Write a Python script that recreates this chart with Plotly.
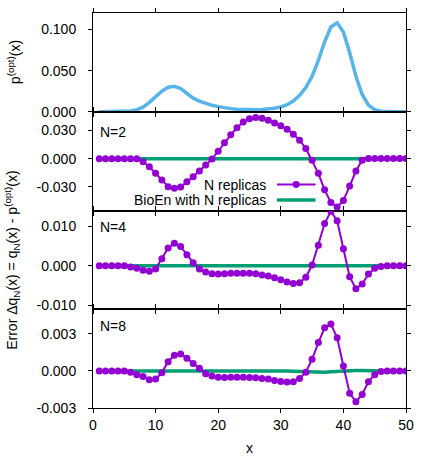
import plotly.graph_objects as go
from plotly.subplots import make_subplots

# x grid
x = list(range(1, 51))

# optimal distribution p_opt(x)
p_opt = [0.0000, 0.0000, 0.0001, 0.0002, 0.0004, 0.0010, 0.0025, 0.0056, 0.0115, 0.0178,
         0.0250, 0.0298, 0.0310, 0.0282, 0.0225, 0.0165, 0.0128, 0.0100, 0.0078, 0.0062,
         0.0048, 0.0038, 0.0031, 0.0027, 0.0025, 0.0025, 0.0027, 0.0032, 0.0042, 0.0058,
         0.0085, 0.0130, 0.0200, 0.0295, 0.0430, 0.0625, 0.0850, 0.1030, 0.1080, 0.0970,
         0.0720, 0.0430, 0.0210, 0.0080, 0.0025, 0.0006, 0.0001, 0.0000, 0.0000, 0.0000]

# error of plain N replicas
err_n2 = [0.0, 0.0, 0.0, 0.0, 0.0, 0.0, 0.0, -0.0032, -0.0085, -0.0155,
          -0.0226, -0.0297, -0.0314, -0.0300, -0.0244, -0.0190, -0.0130, -0.0067, -0.0003, 0.0080,
          0.0170, 0.0255, 0.0330, 0.0390, 0.0425, 0.0440, 0.0432, 0.0410, 0.0380, 0.0350,
          0.0315, 0.0262, 0.0198, 0.0110, -0.0015, -0.0155, -0.0330, -0.0466, -0.0512, -0.0445,
          -0.0290, -0.0130, -0.0015, 0.0004, 0.0003, 0.0003, 0.0003, 0.0003, 0.0003, 0.0003]

err_n4 = [0.0, 0.0, 0.0, 0.0, 0.0, -0.0003, -0.0006, -0.0011, -0.0014, -0.0008,
          0.0018, 0.0045, 0.0057, 0.0049, 0.0028, 0.0008, -0.0008, -0.0016, -0.0020, -0.0021,
          -0.0020, -0.0019, -0.0019, -0.0019, -0.0019, -0.0020, -0.0023, -0.0026, -0.0030, -0.0035,
          -0.0041, -0.0045, -0.0043, -0.0029, 0.0002, 0.0052, 0.0107, 0.0138, 0.0114, 0.0043,
          -0.0028, -0.0058, -0.0046, -0.0021, -0.0006, -0.0002, 0.0, 0.0, 0.0, 0.0]

err_n8 = [0.0, 0.0, 0.0, 0.0, 0.0, -0.0001, -0.0003, -0.00045, -0.00072, -0.00066,
          -0.00015, 0.00075, 0.00128, 0.00138, 0.00104, 0.0006, 0.00022, -0.00022, -0.0004, -0.0005,
          -0.00052, -0.0005, -0.0005, -0.0005, -0.00052, -0.00055, -0.0006, -0.00066, -0.00078, -0.00086,
          -0.0009, -0.00088, -0.0006, -0.0001, 0.00095, 0.0023, 0.0035, 0.0038, 0.0027, 0.0004,
          -0.0018, -0.0025, -0.0019, -0.00087, -0.0003, -0.00005, 0.0, 0.0, 0.0, 0.0]

# error of BioEn reweighted N replicas (almost zero)
bio_n2 = [0.0, 0.0, 0.0, 0.0, 0.0, 0.0, 0.0, 0.0, 0.0, 0.0,
          0.0, 0.0, 0.0001, 0.0001, 0.0001, 0.0, 0.0, 0.0, 0.0, 0.0,
          0.0, 0.0, 0.0, 0.0, 0.0, 0.0, 0.0, 0.0, 0.0, 0.0,
          0.0, 0.0, 0.0, 0.0, 0.0, -0.0001, -0.0001, -0.0001, 0.0, 0.0,
          0.0, 0.0, 0.0, 0.0, 0.0, 0.0, 0.0, 0.0, 0.0, 0.0]
bio_n4 = [0.0, 0.0, 0.0, 0.0, 0.0, 0.0, 0.0, 0.0, 0.0, 0.0,
          0.0, 0.00005, 0.00008, 0.00005, 0.0, 0.0, 0.0, 0.0, 0.0, 0.0,
          0.0, 0.0, 0.0, 0.0, 0.0, 0.0, 0.00003, 0.00005, 0.00008, 0.0001,
          0.0001, 0.0001, 0.00008, 0.00005, 0.0, -0.00005, -0.0001, -0.00008, -0.00005, 0.0,
          0.00005, 0.00005, 0.0, 0.0, 0.0, 0.0, 0.0, 0.0, 0.0, 0.0]
bio_n8 = [0.0, 0.0, 0.0, 0.0, 0.0, 0.0, 0.0, 0.0, 0.0, 0.0,
          0.00002, 0.00004, 0.00006, 0.00007, 0.00006, 0.00004, 0.00002, 0.0, 0.0, 0.00002,
          0.00002, 0.00002, 0.00002, 0.00002, 0.00002, 0.00002, 0.00002, 0.0, 0.0, 0.0,
          0.0, -0.00002, -0.00004, -0.00007, -0.0001, -0.00011, -0.0001, -0.00007, -0.00003, 0.0,
          0.00003, 0.00004, 0.00003, 0.0, 0.0, 0.0, 0.0, 0.0, 0.0, 0.0]

panel_names = ["N=2", "N=4", "N=8"]
y_ranges = [[0, 0.12], [-0.055, 0.05], [-0.011, 0.014], [-0.003, 0.005]]
y_ticks = [[0, 0.05, 0.1], [-0.03, 0, 0.03], [-0.01, 0, 0.01], [-0.003, 0, 0.003]]
y_ticktext = [["0.000", "0.050", "0.100"], ["-0.030", "0.000", "0.030"],
              ["-0.010", "0.000", "0.010"], ["-0.003", "0.000", "0.003"]]

PURPLE = "#9400D3"
GREEN = "#009E73"
BLUE = "#56B4E9"
FONT = "Liberation Sans, Arial, sans-serif"

fig = make_subplots(rows=4, cols=1, shared_xaxes=True, vertical_spacing=0)

fig.add_trace(go.Scatter(x=x, y=p_opt, mode="lines", line=dict(color=BLUE, width=3.5),
                         showlegend=False), row=1, col=1)

for i, (bio, err) in enumerate([(bio_n2, err_n2), (bio_n4, err_n4), (bio_n8, err_n8)]):
    fig.add_trace(go.Scatter(x=x, y=bio, mode="lines", line=dict(color=GREEN, width=3.5),
                             name="BioEn with N replicas", showlegend=False), row=i + 2, col=1)
    fig.add_trace(go.Scatter(x=x, y=err, mode="lines+markers", line=dict(color=PURPLE, width=2),
                             marker=dict(color=PURPLE, size=7), name="N replicas",
                             showlegend=False), row=i + 2, col=1)

axis_style = dict(showline=True, linecolor="black", linewidth=1, mirror="ticks",
                  ticks="outside", ticklen=4, tickcolor="black", showgrid=False,
                  zeroline=False, automargin=False,
                  tickfont=dict(size=14, color="black", family=FONT))

for r in range(1, 5):
    fig.update_xaxes(range=[0, 50], tickvals=[0, 10, 20, 30, 40, 50], row=r, col=1, **axis_style)
    fig.update_yaxes(range=y_ranges[r - 1], tickvals=y_ticks[r - 1], ticktext=y_ticktext[r - 1],
                     ticklabelstandoff=9, row=r, col=1, **axis_style)
fig.update_xaxes(ticklabelstandoff=0, title=dict(text="x", standoff=11,
                 font=dict(size=14, color="black", family=FONT)), row=4, col=1)

annos = []
# panel labels
label_y = [0.80, 0.83, 0.832]
for i, name in enumerate(panel_names):
    annos.append(dict(text=name, xref=f"x{i + 2} domain", yref=f"y{i + 2} domain",
                      x=0.016, y=label_y[i], xanchor="left", yanchor="middle",
                      showarrow=False, font=dict(size=14, color="black", family=FONT)))
# y titles
annos.append(dict(text="p<sup>(opt)</sup>(x)", xref="paper", yref="paper", x=-0.25, y=0.875,
                  textangle=-90, showarrow=False, xanchor="center", yanchor="middle",
                  font=dict(size=14, color="black", family=FONT)))
annos.append(dict(text="Error Δq<sub>N</sub>(x) = q<sub>N</sub>(x) - p<sup>(opt)</sup>(x)",
                  xref="paper", yref="paper", x=-0.259, y=0.375, textangle=-90,
                  showarrow=False, xanchor="center", yanchor="middle",
                  font=dict(size=14, color="black", family=FONT)))
# legend (gnuplot style: text then sample)
legend_rows = [("N replicas", 0.263, PURPLE, 2), ("BioEn with N replicas", 0.106, GREEN, 3.5)]
shapes = []
for text, yy, col, w in legend_rows:
    annos.append(dict(text=text, xref="x2 domain", yref="y2 domain", x=0.559, y=yy,
                      xanchor="right", yanchor="middle", showarrow=False,
                      font=dict(size=14, color="black", family=FONT)))
    shapes.append(dict(type="line", xref="x2 domain", yref="y2 domain", x0=0.588, x1=0.711,
                       y0=yy, y1=yy, line=dict(color=col, width=w)))
shapes.append(dict(type="circle", xref="x2 domain", yref="y2 domain",
                   x0=0.649 - 0.0112, x1=0.649 + 0.0112, y0=0.263 - 0.0354, y1=0.263 + 0.0354,
                   fillcolor=PURPLE, line=dict(color=PURPLE, width=0)))

fig.update_layout(width=436, height=458, margin=dict(l=93, r=30, t=13, b=50, autoexpand=False),
                  plot_bgcolor="white", paper_bgcolor="white",
                  font=dict(family=FONT, size=14, color="black"),
                  annotations=annos, shapes=shapes, showlegend=False)

# drop the default body margin so the figure sits at the page corner
fig.write_html("out.html", config={"displayModeBar": False},
               post_script="document.body.style.margin='0';")
